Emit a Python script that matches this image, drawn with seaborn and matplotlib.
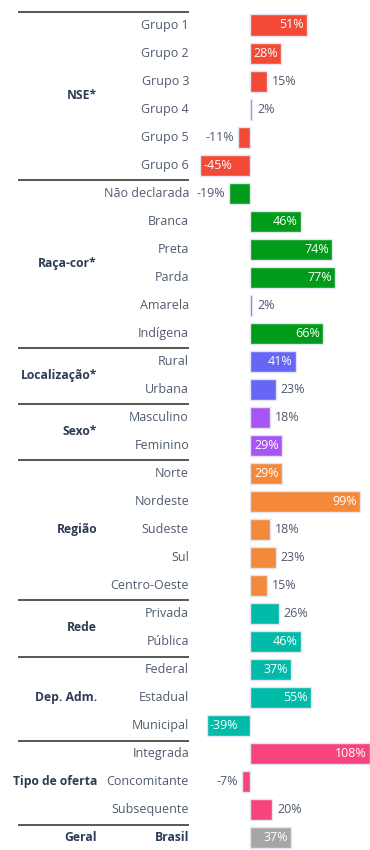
import matplotlib
matplotlib.use("Agg")
import matplotlib.pyplot as plt
import seaborn as sns
import pandas as pd

# Categories, values (%) and grouping
categories = [
    "Grupo 1", "Grupo 2", "Grupo 3", "Grupo 4", "Grupo 5", "Grupo 6",
    "Não declarada", "Branca", "Preta", "Parda", "Amarela", "Indígena",
    "Rural", "Urbana",
    "Masculino", "Feminino",
    "Norte", "Nordeste", "Sudeste", "Sul", "Centro-Oeste",
    "Privada", "Pública",
    "Federal", "Estadual", "Municipal",
    "Integrada", "Concomitante", "Subsequente",
    "Brasil",
]
values = [51, 28, 15, 2, -11, -45,
          -19, 46, 74, 77, 2, 66,
          41, 23,
          18, 29,
          29, 99, 18, 23, 15,
          26, 46,
          37, 55, -39,
          108, -7, 20,
          37]
groups = (["NSE*"] * 6 + ["Raça-cor*"] * 6 + ["Localização*"] * 2 + ["Sexo*"] * 2
          + ["Região"] * 5 + ["Rede"] * 2 + ["Dep. Adm."] * 3 + ["Tipo de oferta"] * 3
          + ["Geral"])
group_order = ["NSE*", "Raça-cor*", "Localização*", "Sexo*", "Região", "Rede",
               "Dep. Adm.", "Tipo de oferta", "Geral"]
group_colors = {
    "NSE*": "#F24A36",
    "Raça-cor*": "#009B18",
    "Localização*": "#6666F5",
    "Sexo*": "#A855F7",
    "Região": "#F5893A",
    "Rede": "#00BBA8",
    "Dep. Adm.": "#00BBA8",
    "Tipo de oferta": "#F8447C",
    "Geral": "#A6A6A6",
}

df = pd.DataFrame({"cat": categories, "val": values, "grp": groups})

sns.set_theme(style="white")
plt.rcParams["font.family"] = ["Open Sans", "DejaVu Sans"]

W, H = 370, 850
fig = plt.figure(figsize=(W / 100, H / 100), dpi=100)
ax = fig.add_axes([0, 0, 1, 1])

sns.barplot(data=df, x="val", y="cat", hue="grp", palette=group_colors,
            order=categories, hue_order=group_order, dodge=False, width=0.75,
            orient="h", legend=False, saturation=1, edgecolor="#E4E4F2",
            linewidth=1.0, ax=ax)

# pixel scale: zero at x=250 px, 1.11 px per percentage point
px_per = 1.11
x0 = 250
ax.set_xlim(-x0 / px_per, (W - x0) / px_per)
row_px = 28.03
top_px = 25
n = len(categories)
ax.set_ylim(n - 1 + (H - top_px - (n - 1) * row_px) / row_px, -top_px / row_px)
ax.axis("off")

text_color = "#4F5B6E"
group_color = "#2E3B55"
fs = 9.0
gfs = 8.7
tr = ax.get_yaxis_transform()

cat_x = 189 / W
for i, c in enumerate(categories):
    bold = c == "Brasil"
    ax.text(cat_x, i, c, transform=tr, ha="right", va="center",
            fontsize=gfs if bold else fs,
            color=group_color if bold else text_color,
            fontweight="bold" if bold else "normal")

# group labels and separators
grp_x = 97 / W
for g in group_order:
    idx = [i for i, gg in enumerate(groups) if gg == g]
    lo, hi = idx[0], idx[-1]
    ax.text(grp_x, (lo + hi) / 2, g, transform=tr, ha="right", va="center",
            fontsize=gfs, fontweight="bold", color=group_color)
    ax.plot([18 / W, 189 / W], [lo - 0.47, lo - 0.47], transform=tr,
            color="#4A4A4A", lw=1.3, solid_capstyle="butt")

# value labels
pt = 0.72
for i, v in enumerate(values):
    label = f"{v}%"
    inside = (v >= 27) or (v <= -30)
    if inside:
        if v > 0:
            ax.annotate(label, (v, i), xytext=(-3 * pt, 0), textcoords="offset points",
                        ha="right", va="center", fontsize=fs, color="white")
        else:
            ax.annotate(label, (v, i), xytext=(3 * pt, 0), textcoords="offset points",
                        ha="left", va="center", fontsize=fs, color="white")
    else:
        if v >= 0:
            ax.annotate(label, (v, i), xytext=(5 * pt, 0), textcoords="offset points",
                        ha="left", va="center", fontsize=fs, color=text_color)
        else:
            ax.annotate(label, (v, i), xytext=(-4 * pt, 0), textcoords="offset points",
                        ha="right", va="center", fontsize=fs, color=text_color)

fig.savefig("out.png", dpi=100, facecolor="white")
